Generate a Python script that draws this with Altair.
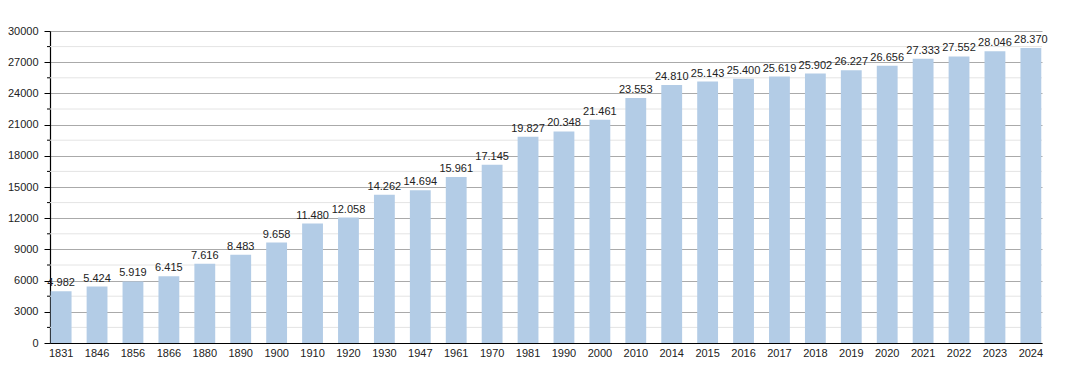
import altair as alt
import pandas as pd

years = ["1831", "1846", "1856", "1866", "1880", "1890", "1900", "1910", "1920", "1930",
         "1947", "1961", "1970", "1981", "1990", "2000", "2010", "2014", "2015", "2016",
         "2017", "2018", "2019", "2020", "2021", "2022", "2023", "2024"]
population = [4982, 5424, 5919, 6415, 7616, 8483, 9658, 11480, 12058, 14262,
              14694, 15961, 17145, 19827, 20348, 21461, 23553, 24810, 25143, 25400,
              25619, 25902, 26227, 26656, 27333, 27552, 28046, 28370]
major_ticks = list(range(0, 30001, 3000))
minor_ticks = list(range(1500, 30000, 3000))

df = pd.DataFrame({
    "year": years,
    "pop": population,
    "label": [f"{v:,}".replace(",", ".") for v in population],
})
minor_df = pd.DataFrame({"v": minor_ticks})

FONT = "Liberation Sans"
yscale = alt.Scale(domain=[0, 30000], nice=False)
y_axis = alt.Axis(values=major_ticks, format="d", labelOverlap=False,
                  grid=True, gridColor="#aaaaaa", tickSize=6,
                  tickColor="#000", domainColor="#000", domainWidth=1.2,
                  labelFont=FONT, labelFontSize=11, labelColor="#222", labelPadding=6)

x = alt.X("year:N", sort=years, title=None,
          scale=alt.Scale(paddingInner=0.42, paddingOuter=0.02),
          axis=alt.Axis(labelAngle=0, ticks=False, domainColor="#000", domainWidth=1.2,
                        labelFont=FONT, labelFontSize=11, labelColor="#222", labelPadding=4,
                        labelOverlap=False))

minor_grid = alt.Chart(minor_df).mark_rule(color="#e4e4e4").encode(
    y=alt.Y("v:Q", scale=yscale, axis=y_axis, title=None))
minor_tick = alt.Chart(minor_df).mark_rule(color="#000").encode(
    y=alt.Y("v:Q", scale=yscale, axis=y_axis, title=None), x=alt.value(-3), x2=alt.value(0))

bars = alt.Chart(df).mark_bar(color="#b3cce6").encode(
    x=x, y=alt.Y("pop:Q", scale=yscale, axis=y_axis, title=None))
text = alt.Chart(df).mark_text(baseline="bottom", dy=-3, font=FONT, fontSize=11, color="#222").encode(
    x=alt.X("year:N", sort=years), y=alt.Y("pop:Q", scale=yscale, axis=y_axis, title=None),
    text="label:N")

chart = (minor_grid + minor_tick + bars + text).properties(
    width=992, height=312,
    autosize=alt.AutoSizeParams(type="none"),
    padding={"left": 42, "top": 23, "right": 20, "bottom": 22},
).configure_view(stroke=None)

chart.save("out.html", embed_options={"renderer": "svg", "actions": False})
